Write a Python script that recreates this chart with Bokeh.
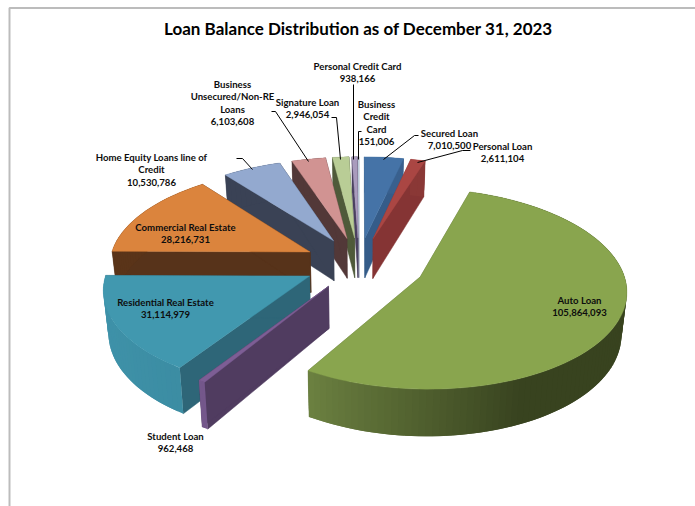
import math
from bokeh.plotting import figure
from bokeh.embed import file_html
from bokeh.resources import INLINE
from bokeh.models import Range1d
from bokeh.core.properties import value

title = "Loan Balance Distribution as of December 31, 2023"
categories = ["Secured Loan", "Personal Loan", "Auto Loan", "Student Loan", "Residential Real Estate",
              "Commercial Real Estate", "Home Equity Loans line of Credit", "Business Unsecured/Non-RE Loans",
              "Signature Loan", "Personal Credit Card", "Business Credit Card"]
balances = [7010500, 2611104, 105864093, 962468, 31114979, 28216731, 10530786, 6103608, 2946054, 938166, 151006]
top_colors = ["#4573A7", "#AA4643", "#89A54E", "#7D5E95", "#4198AF", "#DB843D", "#93A9CF", "#D19392", "#B9CD96", "#A99BBD", "#C4D3E4"]
wall_colors = ["#355C89", "#853434", "#5F7338", "#503C60", "#2E6678", "#57331A", "#3A4255", "#523838", "#4F5A3A", "#4A4060", "#8A9AAC"]
rim_colors = [("#39608E", "#4573A7"), ("#8A3836", "#AA4643"), ("#38431F", "#6B8040"), ("#6A4F80", "#7D5E95"),
              ("#37869B", "#3F92A9"), ("#5A3419", "#5A3419"), ("#3A4255", "#3A4255"), ("#523838", "#523838"),
              ("#4F5A3A", "#4F5A3A"), ("#4A4060", "#4A4060"), ("#8A9AAC", "#8A9AAC")]
explosions = [0.275, 0.275, 0.33, 0.275, 0.275, 0.275, 0.275, 0.275, 0.275, 0.275, 0.275]

label_lines = [["Secured Loan"], ["Personal Loan"], ["Auto Loan"], ["Student Loan"], ["Residential Real Estate"],
               ["Commercial Real Estate"], ["Home Equity Loans line of", "Credit"], ["Business", "Unsecured/Non-RE", "Loans"],
               ["Signature Loan"], ["Personal Credit Card"], ["Business", "Credit", "Card"]]
label_anchor = [(449, 133), (502, 146), (579, 300), (175, 436), (165, 302), (185, 227), (151, 157), (232, 84), (307, 102), (357, 66), (376, 104)]
leaders = [[(418, 135), (414, 135), (383, 159)], [(470, 150), (462, 150), (417, 162)], [(236, 158), (242, 158), (252, 169)],
           [(271, 111), (275, 111), (308, 161)], [(331, 117), (336, 117), (340, 159)], [(353, 84), (353, 159)],
           [(361, 131), (358, 131), (358, 159)]]

CX, CY, S, A, K, THICK, BOTTOM_SCALE = 358.5, 263, 201, 96, 0.115, 41, 0.98

def project(wx, u, bottom=False):
    w = 1 + K * u
    x = S * wx / w
    y = -A * u / w
    if bottom:
        x *= BOTTOM_SCALE
        y += THICK / w
    return CX + x, CY + y

def mix(c1, c2, t):
    a = [int(c1[i:i + 2], 16) for i in (1, 3, 5)]
    b = [int(c2[i:i + 2], 16) for i in (1, 3, 5)]
    return "#%02x%02x%02x" % tuple(round(p + (q - p) * t) for p, q in zip(a, b))

total = sum(balances)
p = figure(width=695, height=506, output_backend="svg", toolbar_location=None,
           x_range=Range1d(0, 695), y_range=Range1d(506, 0), min_border=0, outline_line_color=None)
p.axis.visible = False
p.grid.visible = False
p.background_fill_color = "white"

p.line([9, 9, 695], [506, 7.5, 7.5], line_color="#bcbcbc", line_width=2)

slices = []
acc = 0.0
for i, b in enumerate(balances):
    a0 = acc / total * 2 * math.pi
    acc += b
    a1 = acc / total * 2 * math.pi
    slices.append((i, a0, a1))
slices.sort(key=lambda s: -math.cos((s[1] + s[2]) / 2))

for i, a0, a1 in slices:
    m = (a0 + a1) / 2
    ox, ou = explosions[i] * math.sin(m), explosions[i] * math.cos(m)
    n = max(2, int((a1 - a0) / 0.03))
    angs = [a0 + (a1 - a0) * j / n for j in range(n + 1)]
    apex_t = project(ox, ou)
    apex_b = project(ox, ou, True)
    rim_t = [project(ox + math.sin(t), ou + math.cos(t)) for t in angs]
    rim_b = [project(ox + math.sin(t), ou + math.cos(t), True) for t in angs]
    for tp, bt in ((rim_t[0], rim_b[0]), (rim_t[-1], rim_b[-1])):
        xs = [apex_t[0], tp[0], bt[0], apex_b[0]]
        ys = [apex_t[1], tp[1], bt[1], apex_b[1]]
        p.patch(xs, ys, fill_color=wall_colors[i], line_color=wall_colors[i], line_width=0.5)
    for j in range(n):
        t = (angs[j] + angs[j + 1]) / 2
        if i == 2:
            shade = max(0.0, min(1.0, (t - math.radians(156)) / math.radians(55)))
        else:
            shade = max(0.0, min(1.0, -math.sin(t)))
        c = mix(rim_colors[i][0], rim_colors[i][1], shade)
        k = min(j + 2, n)
        xs = [rim_t[j][0], rim_t[k][0], rim_b[k][0], rim_b[j][0]]
        ys = [rim_t[j][1], rim_t[k][1], rim_b[k][1], rim_b[j][1]]
        p.patch(xs, ys, fill_color=c, line_color=None)
    xs = [apex_t[0]] + [q[0] for q in rim_t]
    ys = [apex_t[1]] + [q[1] for q in rim_t]
    p.patch(xs, ys, fill_color=top_colors[i], line_color=top_colors[i], line_width=0.4)

for seg in leaders:
    p.line([q[0] for q in seg], [q[1] for q in seg], line_color="#000000", line_width=1)

p.text(358, 28, text=[title], text_font=value("Lato"), text_font_style="bold", text_font_size="17px",
       text_align="center", text_baseline="middle", text_color="#000000")

for i, lines in enumerate(label_lines):
    ax, ay = label_anchor[i]
    rows = lines + [f"{balances[i]:,}"]
    for r, row in enumerate(rows):
        p.text(ax, ay + r * 12.3, text=[row], text_font=value("Lato"), text_font_style="bold", text_font_size="9.6px",
               text_align="center", text_baseline="middle", text_color="#0d0d0d")

open("out.html", "w").write(file_html(p, INLINE))
